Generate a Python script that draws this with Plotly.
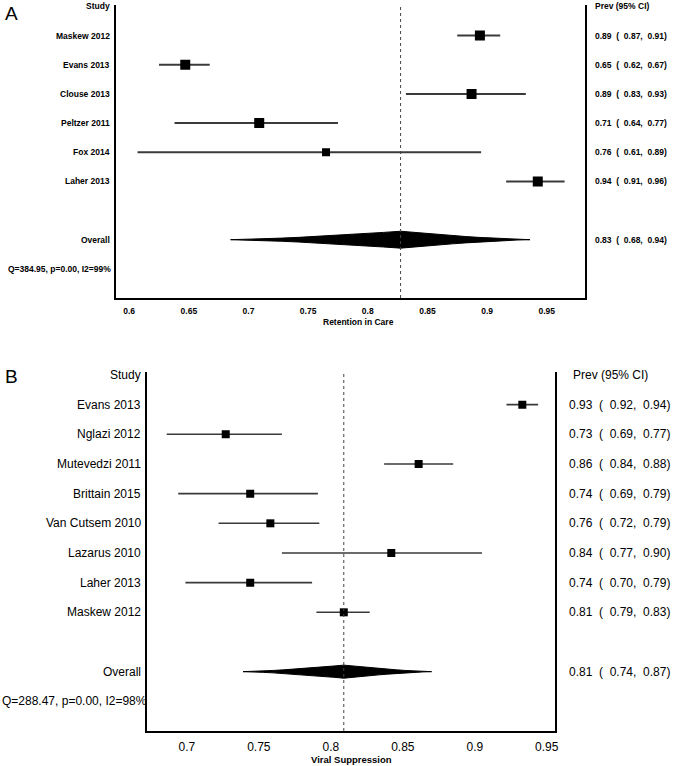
import plotly.graph_objects as go

W, H = 678, 766

# ---------------- Panel A data: Retention in Care ----------------
a_studies = ["Maskew 2012", "Evans 2013", "Clouse 2013", "Peltzer 2011", "Fox 2014", "Laher 2013"]
a_est = [0.894, 0.647, 0.887, 0.709, 0.765, 0.9425]
a_lo = [0.875, 0.625, 0.832, 0.638, 0.607, 0.916]
a_hi = [0.911, 0.6675, 0.9325, 0.775, 0.895, 0.965]
a_text = ["0.89  (  0.87,  0.91)", "0.65  (  0.62,  0.67)", "0.89  (  0.83,  0.93)",
          "0.71  (  0.64,  0.77)", "0.76  (  0.61,  0.89)", "0.94  (  0.91,  0.96)"]
a_overall = [0.685, 0.8275, 0.936]
a_overall_text = "0.83  (  0.68,  0.94)"
a_q = "Q=384.95, p=0.00, I2=99%"
a_ticks = [0.6, 0.65, 0.7, 0.75, 0.8, 0.85, 0.9, 0.95]
a_xtitle = "Retention in Care"

# ---------------- Panel B data: Viral Suppression ----------------
b_studies = ["Evans 2013", "Nglazi 2012", "Mutevedzi 2011", "Brittain 2015",
             "Van Cutsem 2010", "Lazarus 2010", "Laher 2013", "Maskew 2012"]
b_est = [0.933, 0.727, 0.861, 0.744, 0.758, 0.842, 0.744, 0.809]
b_lo = [0.922, 0.686, 0.837, 0.694, 0.722, 0.766, 0.699, 0.790]
b_hi = [0.944, 0.766, 0.885, 0.791, 0.792, 0.905, 0.787, 0.827]
b_text = ["0.93  (  0.92,  0.94)", "0.73  (  0.69,  0.77)", "0.86  (  0.84,  0.88)",
          "0.74  (  0.69,  0.79)", "0.76  (  0.72,  0.79)", "0.84  (  0.77,  0.90)",
          "0.74  (  0.70,  0.79)", "0.81  (  0.79,  0.83)"]
b_overall = [0.739, 0.809, 0.870]
b_overall_text = "0.81  (  0.74,  0.87)"
b_q = "Q=288.47, p=0.00, I2=98%"
b_ticks = [0.7, 0.75, 0.8, 0.85, 0.9, 0.95]
b_xtitle = "Viral Suppression"

FONT = "Liberation Sans, Arial, sans-serif"
NB = "\u00a0"


def nb(s):
    return s.replace(" ", NB)


def px(x):
    return x / W


def py(y):
    return 1 - y / H


fig = go.Figure()
annotations = []
shapes = []

# spindle (concave diamond) profile, shape-only constants
PROFILE_T = [0.0, 0.1, 0.2, 0.3, 0.4, 0.5, 0.6, 0.7, 0.8, 0.9, 1.0]


def panel(xa, ya, studies, est, lo, hi, texts, overall, overall_text, qtext,
          msizes, lw, dh, fsize, bold, left_px, val_px, head_px,
          q_anchor, q_px, label_char, label_xy):
    n = len(studies)
    rows = list(range(1, n + 1))
    orow = n + 2
    qrow = n + 3
    col = "#3a3a3a"
    for r, l, h in zip(rows, lo, hi):
        fig.add_trace(go.Scatter(x=[l, h], y=[r, r], mode="lines",
                                 line=dict(color=col, width=lw),
                                 xaxis=xa, yaxis=ya, showlegend=False, hoverinfo="skip"))
    fig.add_trace(go.Scatter(x=est, y=rows, mode="markers",
                             marker=dict(symbol="square", size=msizes, color="black",
                                         opacity=1, line=dict(width=0)),
                             xaxis=xa, yaxis=ya, showlegend=False))
    # overall spindle-shaped diamond
    o_lo, o_est, o_hi = overall
    xs_top, ys_top = [], []
    for t in PROFILE_T:  # left tip -> centre
        xs_top.append(o_lo + (o_est - o_lo) * t)
        ys_top.append(orow - dh * t ** 1.4)
    for t in PROFILE_T[::-1][1:]:  # centre -> right tip
        xs_top.append(o_hi - (o_hi - o_est) * t)
        ys_top.append(orow - dh * t ** 1.4)
    xs = xs_top + xs_top[::-1][1:]
    ys = ys_top + [2 * orow - y for y in ys_top[::-1][1:]]
    fig.add_trace(go.Scatter(x=xs, y=ys, mode="lines", fill="toself", fillcolor="black",
                             line=dict(color="black", width=1),
                             xaxis=xa, yaxis=ya, showlegend=False, hoverinfo="skip"))
    yref = ya
    xref = xa
    shapes.append(dict(type="line", xref=xref, yref=yref + " domain",
                       x0=o_est, x1=o_est, y0=0, y1=1,
                       line=dict(color="#444", width=1, dash="dot")))
    f = dict(family=FONT, size=fsize, color="black")
    wrap = (lambda s: "<b>" + s + "</b>") if bold else (lambda s: s)
    labels = [("Study", 0)] + list(zip(studies, rows)) + [("Overall", orow)]
    for s, r in labels:
        annotations.append(dict(x=px(left_px), y=r, xref="paper", yref=yref,
                                text=wrap(s), showarrow=False, xanchor="right",
                                yanchor="middle", font=f))
    annotations.append(dict(x=px(q_px), y=qrow, xref="paper", yref=yref,
                            text=wrap(qtext), showarrow=False, xanchor=q_anchor,
                            yanchor="middle", font=f))
    annotations.append(dict(x=px(head_px), y=0, xref="paper", yref=yref,
                            text=wrap("Prev (95% CI)"), showarrow=False, xanchor="left",
                            yanchor="middle", font=f))
    for s, r in list(zip(texts, rows)) + [(overall_text, orow)]:
        annotations.append(dict(x=px(val_px), y=r, xref="paper", yref=yref,
                                text=wrap(nb(s)), showarrow=False, xanchor="left",
                                yanchor="middle", font=f))
    annotations.append(dict(x=px(label_xy[0]), y=py(label_xy[1]), xref="paper", yref="paper",
                            text=label_char, showarrow=False, xanchor="left",
                            yanchor="middle", font=dict(family=FONT, size=19, color="black")))


panel("x", "y", a_studies, a_est, a_lo, a_hi, a_text, a_overall, a_overall_text, a_q,
      [10, 10, 10, 10, 8, 10], 2, 0.29, 8.5, True, 113, 597, 597,
      "right", 114, "A", (3, 14))
panel("x2", "y2", b_studies, b_est, b_lo, b_hi, b_text, b_overall, b_overall_text, b_q,
      8, 1.6, 0.22, 12, False, 144, 570, 574,
      "left", 0, "B", (3, 376))

annotations.append(dict(x=px(361), y=py(322), xref="paper", yref="paper",
                        text="<b>" + a_xtitle + "</b>", showarrow=False,
                        xanchor="center", yanchor="middle",
                        font=dict(family=FONT, size=8.5, color="black")))
annotations.append(dict(x=px(354), y=py(759), xref="paper", yref="paper",
                        text="<b>" + b_xtitle + "</b>", showarrow=False,
                        xanchor="center", yanchor="middle",
                        font=dict(family=FONT, size=9.5, color="black")))

fig.update_layout(
    width=W, height=H, margin=dict(l=0, r=0, t=0, b=0),
    paper_bgcolor="white", plot_bgcolor="white",
    annotations=annotations, shapes=shapes,
    xaxis=dict(domain=[px(117), px(588)], range=[0.5892, 0.9817], anchor="y",
               showgrid=False, zeroline=False, showline=True, linecolor="black", linewidth=2,
               tickvals=a_ticks, ticktext=["<b>%g</b>" % t for t in a_ticks],
               ticks="", ticklabelstandoff=4,
               tickfont=dict(family=FONT, size=8.5, color="black")),
    yaxis=dict(domain=[py(298), py(5)], range=[10, -0.05], anchor="x",
               showgrid=False, zeroline=False, showline=True, mirror=True,
               linecolor="black", linewidth=2, showticklabels=False, ticks=""),
    xaxis2=dict(domain=[px(148), px(558)], range=[0.6724, 0.9555], anchor="y2",
                showgrid=False, zeroline=False, showline=True, linecolor="black", linewidth=1.5,
                tickvals=b_ticks, ticktext=["%g" % t for t in b_ticks],
                ticks="", ticklabelstandoff=4,
                tickfont=dict(family=FONT, size=12, color="black")),
    yaxis2=dict(domain=[py(731), py(372)], range=[12, -0.1], anchor="x2",
                showgrid=False, zeroline=False, showline=True, mirror=True,
                linecolor="black", linewidth=1.5, showticklabels=False, ticks=""),
)

fig.write_html(
    "out.html",
    config={"displayModeBar": False},
    post_script="document.body.style.margin='0';document.body.style.padding='0';"
                "document.documentElement.style.overflow='hidden';",
)
